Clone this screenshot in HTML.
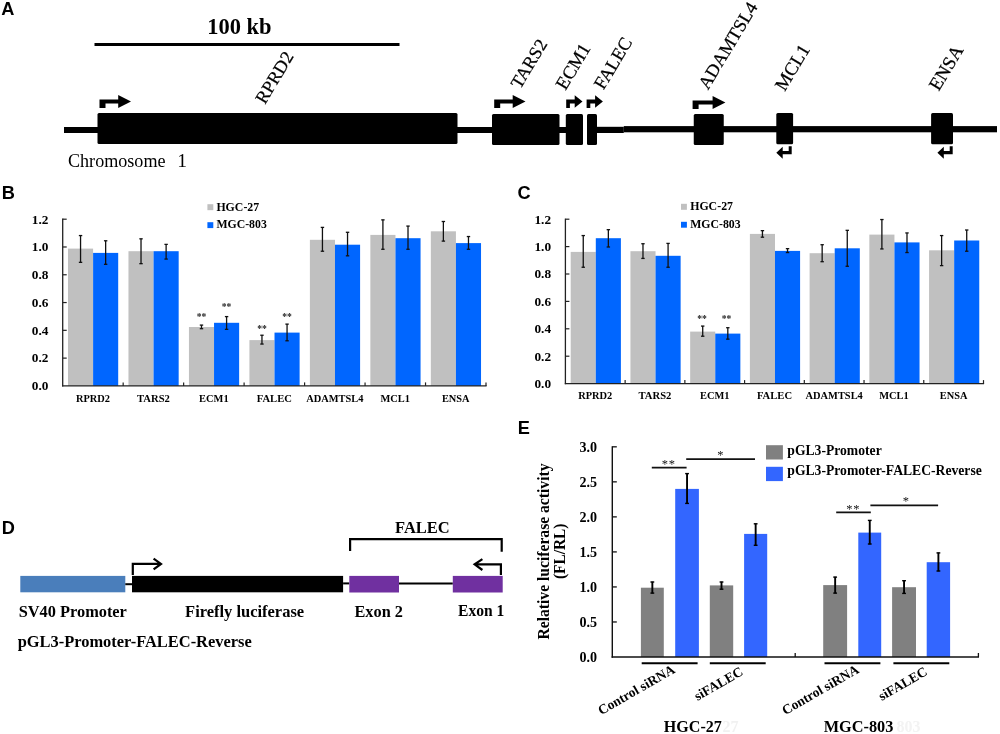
<!DOCTYPE html>
<html><head><meta charset="utf-8"><title>Figure</title>
<style>
html,body{margin:0;padding:0;background:#fff;}
body{width:1000px;height:734px;overflow:hidden;font-family:"Liberation Serif",serif;}
svg{display:block;will-change:transform;}
</style></head><body>
<svg width="1000" height="734" viewBox="0 0 1000 734">
<rect width="1000" height="734" fill="#fff"/>
<text x="1.2" y="14.8" font-family="Liberation Sans" font-size="18.2" font-weight="bold" text-anchor="start" fill="#000" >A</text>
<text x="1.7" y="199" font-family="Liberation Sans" font-size="18.2" font-weight="bold" text-anchor="start" fill="#000" >B</text>
<text x="517.4" y="199.3" font-family="Liberation Sans" font-size="18.2" font-weight="bold" text-anchor="start" fill="#000" >C</text>
<text x="1.7" y="534" font-family="Liberation Sans" font-size="18.2" font-weight="bold" text-anchor="start" fill="#000" >D</text>
<text x="517.7" y="433.8" font-family="Liberation Sans" font-size="18.2" font-weight="bold" text-anchor="start" fill="#000" >E</text>
<text x="207.2" y="34" font-family="Liberation Serif" font-size="23.5" font-weight="bold" text-anchor="start" textLength="64.3" lengthAdjust="spacingAndGlyphs" fill="#000" >100 kb</text>
<rect x="94.50" y="43.00" width="305.00" height="3.00" fill="#000"/>
<rect x="64.00" y="127.00" width="519.00" height="6.00" fill="#000"/>
<rect x="587.00" y="126.80" width="36.80" height="6.20" fill="#000"/>
<rect x="623.80" y="126.10" width="373.20" height="6.20" fill="#000"/>
<text x="68" y="167" font-family="Liberation Serif" font-size="19.5" text-anchor="start" textLength="97.5" lengthAdjust="spacingAndGlyphs" fill="#000" >Chromosome</text>
<text x="177.3" y="167" font-family="Liberation Serif" font-size="19.5" text-anchor="start" fill="#000" >1</text>
<rect x="97.50" y="113.00" width="360.00" height="31.00" fill="#000" rx="1.5"/>
<rect x="492.00" y="114.00" width="67.50" height="31.00" fill="#000" rx="1.5"/>
<rect x="565.80" y="114.00" width="17.20" height="31.00" fill="#000" rx="1.5"/>
<rect x="587.00" y="114.00" width="10.00" height="31.00" fill="#000" rx="1.5"/>
<rect x="693.75" y="114.00" width="30.00" height="31.00" fill="#000" rx="1.5"/>
<rect x="776.30" y="113.00" width="16.80" height="31.30" fill="#000" rx="1.5"/>
<rect x="931.10" y="113.00" width="21.90" height="31.30" fill="#000" rx="1.5"/>
<path d="M99.5,107.9 V99.5 H118.2 V95.0 L131,101.45 L118.2,107.9 V103.6 H105.5 V107.9 Z" fill="#000"/>
<path d="M494.2,107.9 V99.5 H512.7 V95.0 L525.5,101.45 L512.7,107.9 V103.6 H500.2 V107.9 Z" fill="#000"/>
<path d="M566.2,107.9 V99.5 H574.7 V95.2 L582.5,101.5 L574.7,107.8 V103.6 H569.9000000000001 V107.9 Z" fill="#000"/>
<path d="M586.6,107.9 V99.5 H595.1 V95.2 L602.9,101.5 L595.1,107.8 V103.6 H590.3000000000001 V107.9 Z" fill="#000"/>
<path d="M692.6,108.9 V100.5 H712.6 V96.0 L725.4,102.45 L712.6,108.9 V104.6 H698.6 V108.9 Z" fill="#000"/>
<path d="M791.7,146.2 V154.35 H782.6999999999999 V158.7 L776.3,152.7 L782.6999999999999,146.7 V151.04999999999998 H788.7 V146.2 Z" fill="#000"/>
<path d="M952.7,146.2 V154.35 H943.8 V158.7 L937.4,152.7 L943.8,146.7 V151.04999999999998 H949.7 V146.2 Z" fill="#000"/>
<text x="265" y="105" font-family="Liberation Serif" font-size="18.3" text-anchor="start" transform="rotate(-59 265 105)" fill="#000" stroke="#000" stroke-width="0.25">RPRD2</text>
<text x="520.2" y="89.8" font-family="Liberation Serif" font-size="18.0" text-anchor="start" transform="rotate(-59 520.2 89.8)" fill="#000" stroke="#000" stroke-width="0.25">TARS2</text>
<text x="565.5" y="91" font-family="Liberation Serif" font-size="18.7" text-anchor="start" transform="rotate(-59 565.5 91)" fill="#000" stroke="#000" stroke-width="0.25">ECM1</text>
<text x="603.6" y="90.5" font-family="Liberation Serif" font-size="18.3" text-anchor="start" transform="rotate(-59 603.6 90.5)" fill="#000" stroke="#000" stroke-width="0.25">FALEC</text>
<text x="708" y="90.5" font-family="Liberation Serif" font-size="18.3" text-anchor="start" transform="rotate(-59 708 90.5)" textLength="97.6" lengthAdjust="spacingAndGlyphs" fill="#000" stroke="#000" stroke-width="0.25">ADAMTSL4</text>
<text x="784.8" y="92" font-family="Liberation Serif" font-size="18.7" text-anchor="start" transform="rotate(-59 784.8 92)" fill="#000" stroke="#000" stroke-width="0.25">MCL1</text>
<text x="938.8" y="91.8" font-family="Liberation Serif" font-size="18.7" text-anchor="start" transform="rotate(-59 938.8 91.8)" fill="#000" stroke="#000" stroke-width="0.25">ENSA</text>
<rect x="68.00" y="248.60" width="25.10" height="137.30" fill="#c0c0c0"/>
<rect x="93.10" y="252.90" width="25.10" height="133.00" fill="#0066ff"/>
<line x1="80.55" y1="235.56" x2="80.55" y2="262.35" stroke="#111" stroke-width="1.3" stroke-linecap="butt"/>
<line x1="78.85" y1="235.56" x2="82.25" y2="235.56" stroke="#111" stroke-width="1.3" stroke-linecap="butt"/>
<line x1="78.85" y1="262.35" x2="82.25" y2="262.35" stroke="#111" stroke-width="1.3" stroke-linecap="butt"/>
<line x1="105.65" y1="240.78" x2="105.65" y2="264.31" stroke="#111" stroke-width="1.3" stroke-linecap="butt"/>
<line x1="103.95" y1="240.78" x2="107.35" y2="240.78" stroke="#111" stroke-width="1.3" stroke-linecap="butt"/>
<line x1="103.95" y1="264.31" x2="107.35" y2="264.31" stroke="#111" stroke-width="1.3" stroke-linecap="butt"/>
<text x="75.9" y="402" font-family="Liberation Serif" font-size="11.3" font-weight="bold" text-anchor="start" textLength="34.1" lengthAdjust="spacingAndGlyphs" fill="#000" >RPRD2</text>
<rect x="128.47" y="251.20" width="25.10" height="134.70" fill="#c0c0c0"/>
<rect x="153.57" y="251.20" width="25.10" height="134.70" fill="#0066ff"/>
<line x1="141.02" y1="238.82" x2="141.02" y2="263.66" stroke="#111" stroke-width="1.3" stroke-linecap="butt"/>
<line x1="139.32" y1="238.82" x2="142.72" y2="238.82" stroke="#111" stroke-width="1.3" stroke-linecap="butt"/>
<line x1="139.32" y1="263.66" x2="142.72" y2="263.66" stroke="#111" stroke-width="1.3" stroke-linecap="butt"/>
<line x1="166.12" y1="244.38" x2="166.12" y2="259.08" stroke="#111" stroke-width="1.3" stroke-linecap="butt"/>
<line x1="164.42" y1="244.38" x2="167.82" y2="244.38" stroke="#111" stroke-width="1.3" stroke-linecap="butt"/>
<line x1="164.42" y1="259.08" x2="167.82" y2="259.08" stroke="#111" stroke-width="1.3" stroke-linecap="butt"/>
<text x="137.0" y="402" font-family="Liberation Serif" font-size="11.3" font-weight="bold" text-anchor="start" textLength="32.9" lengthAdjust="spacingAndGlyphs" fill="#000" >TARS2</text>
<rect x="188.94" y="327.00" width="25.10" height="58.90" fill="#c0c0c0"/>
<rect x="214.04" y="322.80" width="25.10" height="63.10" fill="#0066ff"/>
<line x1="201.49" y1="325.10" x2="201.49" y2="328.69" stroke="#111" stroke-width="1.3" stroke-linecap="butt"/>
<line x1="199.79" y1="325.10" x2="203.19" y2="325.10" stroke="#111" stroke-width="1.3" stroke-linecap="butt"/>
<line x1="199.79" y1="328.69" x2="203.19" y2="328.69" stroke="#111" stroke-width="1.3" stroke-linecap="butt"/>
<line x1="226.59" y1="316.60" x2="226.59" y2="329.35" stroke="#111" stroke-width="1.3" stroke-linecap="butt"/>
<line x1="224.89" y1="316.60" x2="228.29" y2="316.60" stroke="#111" stroke-width="1.3" stroke-linecap="butt"/>
<line x1="224.89" y1="329.35" x2="228.29" y2="329.35" stroke="#111" stroke-width="1.3" stroke-linecap="butt"/>
<text x="199.1" y="402" font-family="Liberation Serif" font-size="11.3" font-weight="bold" text-anchor="start" textLength="29.5" lengthAdjust="spacingAndGlyphs" fill="#000" >ECM1</text>
<rect x="249.41" y="340.10" width="25.10" height="45.80" fill="#c0c0c0"/>
<rect x="274.51" y="332.60" width="25.10" height="53.30" fill="#0066ff"/>
<line x1="261.96" y1="335.23" x2="261.96" y2="344.05" stroke="#111" stroke-width="1.3" stroke-linecap="butt"/>
<line x1="260.26" y1="335.23" x2="263.66" y2="335.23" stroke="#111" stroke-width="1.3" stroke-linecap="butt"/>
<line x1="260.26" y1="344.05" x2="263.66" y2="344.05" stroke="#111" stroke-width="1.3" stroke-linecap="butt"/>
<line x1="287.06" y1="324.12" x2="287.06" y2="340.78" stroke="#111" stroke-width="1.3" stroke-linecap="butt"/>
<line x1="285.36" y1="324.12" x2="288.76" y2="324.12" stroke="#111" stroke-width="1.3" stroke-linecap="butt"/>
<line x1="285.36" y1="340.78" x2="288.76" y2="340.78" stroke="#111" stroke-width="1.3" stroke-linecap="butt"/>
<text x="256.7" y="402" font-family="Liberation Serif" font-size="11.3" font-weight="bold" text-anchor="start" textLength="35.2" lengthAdjust="spacingAndGlyphs" fill="#000" >FALEC</text>
<rect x="309.89" y="239.80" width="25.10" height="146.10" fill="#c0c0c0"/>
<rect x="334.99" y="244.70" width="25.10" height="141.20" fill="#0066ff"/>
<line x1="322.44" y1="227.39" x2="322.44" y2="251.24" stroke="#111" stroke-width="1.3" stroke-linecap="butt"/>
<line x1="320.74" y1="227.39" x2="324.14" y2="227.39" stroke="#111" stroke-width="1.3" stroke-linecap="butt"/>
<line x1="320.74" y1="251.24" x2="324.14" y2="251.24" stroke="#111" stroke-width="1.3" stroke-linecap="butt"/>
<line x1="347.54" y1="232.29" x2="347.54" y2="255.82" stroke="#111" stroke-width="1.3" stroke-linecap="butt"/>
<line x1="345.84" y1="232.29" x2="349.24" y2="232.29" stroke="#111" stroke-width="1.3" stroke-linecap="butt"/>
<line x1="345.84" y1="255.82" x2="349.24" y2="255.82" stroke="#111" stroke-width="1.3" stroke-linecap="butt"/>
<text x="306.2" y="402" font-family="Liberation Serif" font-size="11.3" font-weight="bold" text-anchor="start" textLength="57.2" lengthAdjust="spacingAndGlyphs" fill="#000" >ADAMTSL4</text>
<rect x="370.36" y="234.90" width="25.10" height="151.00" fill="#c0c0c0"/>
<rect x="395.46" y="238.20" width="25.10" height="147.70" fill="#0066ff"/>
<line x1="382.91" y1="219.87" x2="382.91" y2="249.28" stroke="#111" stroke-width="1.3" stroke-linecap="butt"/>
<line x1="381.21" y1="219.87" x2="384.61" y2="219.87" stroke="#111" stroke-width="1.3" stroke-linecap="butt"/>
<line x1="381.21" y1="249.28" x2="384.61" y2="249.28" stroke="#111" stroke-width="1.3" stroke-linecap="butt"/>
<line x1="408.01" y1="226.08" x2="408.01" y2="249.28" stroke="#111" stroke-width="1.3" stroke-linecap="butt"/>
<line x1="406.31" y1="226.08" x2="409.71" y2="226.08" stroke="#111" stroke-width="1.3" stroke-linecap="butt"/>
<line x1="406.31" y1="249.28" x2="409.71" y2="249.28" stroke="#111" stroke-width="1.3" stroke-linecap="butt"/>
<text x="380.5" y="402" font-family="Liberation Serif" font-size="11.3" font-weight="bold" text-anchor="start" textLength="29.5" lengthAdjust="spacingAndGlyphs" fill="#000" >MCL1</text>
<rect x="430.83" y="231.30" width="25.10" height="154.60" fill="#c0c0c0"/>
<rect x="455.93" y="243.10" width="25.10" height="142.80" fill="#0066ff"/>
<line x1="443.38" y1="221.50" x2="443.38" y2="241.11" stroke="#111" stroke-width="1.3" stroke-linecap="butt"/>
<line x1="441.68" y1="221.50" x2="445.08" y2="221.50" stroke="#111" stroke-width="1.3" stroke-linecap="butt"/>
<line x1="441.68" y1="241.11" x2="445.08" y2="241.11" stroke="#111" stroke-width="1.3" stroke-linecap="butt"/>
<line x1="468.48" y1="236.54" x2="468.48" y2="249.28" stroke="#111" stroke-width="1.3" stroke-linecap="butt"/>
<line x1="466.78" y1="236.54" x2="470.18" y2="236.54" stroke="#111" stroke-width="1.3" stroke-linecap="butt"/>
<line x1="466.78" y1="249.28" x2="470.18" y2="249.28" stroke="#111" stroke-width="1.3" stroke-linecap="butt"/>
<text x="441.9" y="402" font-family="Liberation Serif" font-size="11.3" font-weight="bold" text-anchor="start" textLength="27.7" lengthAdjust="spacingAndGlyphs" fill="#000" >ENSA</text>
<line x1="62.70" y1="218.60" x2="62.70" y2="386.50" stroke="#222" stroke-width="1.3" stroke-linecap="butt"/>
<line x1="62.10" y1="385.90" x2="486.60" y2="385.90" stroke="#222" stroke-width="1.3" stroke-linecap="butt"/>
<text x="48.4" y="390.2" font-family="Liberation Serif" font-size="13.3" font-weight="bold" text-anchor="end" fill="#000" >0.0</text>
<line x1="62.70" y1="358.12" x2="66.70" y2="358.12" stroke="#222" stroke-width="1.2" stroke-linecap="butt"/>
<text x="48.4" y="362.4" font-family="Liberation Serif" font-size="13.3" font-weight="bold" text-anchor="end" fill="#000" >0.2</text>
<line x1="62.70" y1="330.33" x2="66.70" y2="330.33" stroke="#222" stroke-width="1.2" stroke-linecap="butt"/>
<text x="48.4" y="334.6" font-family="Liberation Serif" font-size="13.3" font-weight="bold" text-anchor="end" fill="#000" >0.4</text>
<line x1="62.70" y1="302.55" x2="66.70" y2="302.55" stroke="#222" stroke-width="1.2" stroke-linecap="butt"/>
<text x="48.4" y="306.8" font-family="Liberation Serif" font-size="13.3" font-weight="bold" text-anchor="end" fill="#000" >0.6</text>
<line x1="62.70" y1="274.77" x2="66.70" y2="274.77" stroke="#222" stroke-width="1.2" stroke-linecap="butt"/>
<text x="48.4" y="279.1" font-family="Liberation Serif" font-size="13.3" font-weight="bold" text-anchor="end" fill="#000" >0.8</text>
<line x1="62.70" y1="246.98" x2="66.70" y2="246.98" stroke="#222" stroke-width="1.2" stroke-linecap="butt"/>
<text x="48.4" y="251.3" font-family="Liberation Serif" font-size="13.3" font-weight="bold" text-anchor="end" fill="#000" >1.0</text>
<line x1="62.70" y1="219.20" x2="66.70" y2="219.20" stroke="#222" stroke-width="1.2" stroke-linecap="butt"/>
<text x="48.4" y="223.5" font-family="Liberation Serif" font-size="13.3" font-weight="bold" text-anchor="end" fill="#000" >1.2</text>
<line x1="123.17" y1="385.90" x2="123.17" y2="382.40" stroke="#222" stroke-width="1.2" stroke-linecap="butt"/>
<line x1="183.64" y1="385.90" x2="183.64" y2="382.40" stroke="#222" stroke-width="1.2" stroke-linecap="butt"/>
<line x1="244.11" y1="385.90" x2="244.11" y2="382.40" stroke="#222" stroke-width="1.2" stroke-linecap="butt"/>
<line x1="304.59" y1="385.90" x2="304.59" y2="382.40" stroke="#222" stroke-width="1.2" stroke-linecap="butt"/>
<line x1="365.06" y1="385.90" x2="365.06" y2="382.40" stroke="#222" stroke-width="1.2" stroke-linecap="butt"/>
<line x1="425.53" y1="385.90" x2="425.53" y2="382.40" stroke="#222" stroke-width="1.2" stroke-linecap="butt"/>
<line x1="486.00" y1="385.90" x2="486.00" y2="382.40" stroke="#222" stroke-width="1.2" stroke-linecap="butt"/>
<rect x="207.40" y="204.20" width="5.90" height="6.00" fill="#c0c0c0"/>
<rect x="207.40" y="222.20" width="5.90" height="5.90" fill="#0066ff"/>
<text x="216.4" y="210.6" font-family="Liberation Serif" font-size="11.5" font-weight="bold" text-anchor="start" textLength="42.8" lengthAdjust="spacingAndGlyphs" fill="#000" >HGC-27</text>
<text x="216.4" y="228.2" font-family="Liberation Serif" font-size="11.5" font-weight="bold" text-anchor="start" textLength="50.4" lengthAdjust="spacingAndGlyphs" fill="#000" >MGC-803</text>
<text x="201.5" y="319.8" font-family="Liberation Serif" font-size="9.6" font-weight="bold" text-anchor="middle" fill="#222" >**</text>
<text x="226.5" y="309.8" font-family="Liberation Serif" font-size="9.6" font-weight="bold" text-anchor="middle" fill="#222" >**</text>
<text x="262" y="331.8" font-family="Liberation Serif" font-size="9.6" font-weight="bold" text-anchor="middle" fill="#222" >**</text>
<text x="287" y="319.8" font-family="Liberation Serif" font-size="9.6" font-weight="bold" text-anchor="middle" fill="#222" >**</text>
<rect x="570.70" y="251.90" width="25.10" height="131.70" fill="#c0c0c0"/>
<rect x="595.80" y="238.20" width="25.10" height="145.40" fill="#0066ff"/>
<line x1="583.25" y1="235.56" x2="583.25" y2="267.25" stroke="#111" stroke-width="1.3" stroke-linecap="butt"/>
<line x1="581.55" y1="235.56" x2="584.95" y2="235.56" stroke="#111" stroke-width="1.3" stroke-linecap="butt"/>
<line x1="581.55" y1="267.25" x2="584.95" y2="267.25" stroke="#111" stroke-width="1.3" stroke-linecap="butt"/>
<line x1="608.35" y1="229.67" x2="608.35" y2="246.99" stroke="#111" stroke-width="1.3" stroke-linecap="butt"/>
<line x1="606.65" y1="229.67" x2="610.05" y2="229.67" stroke="#111" stroke-width="1.3" stroke-linecap="butt"/>
<line x1="606.65" y1="246.99" x2="610.05" y2="246.99" stroke="#111" stroke-width="1.3" stroke-linecap="butt"/>
<text x="578.2" y="399.3" font-family="Liberation Serif" font-size="11.3" font-weight="bold" text-anchor="start" textLength="34.1" lengthAdjust="spacingAndGlyphs" fill="#000" >RPRD2</text>
<rect x="630.43" y="251.20" width="25.10" height="132.40" fill="#c0c0c0"/>
<rect x="655.53" y="255.80" width="25.10" height="127.80" fill="#0066ff"/>
<line x1="642.98" y1="243.73" x2="642.98" y2="258.43" stroke="#111" stroke-width="1.3" stroke-linecap="butt"/>
<line x1="641.28" y1="243.73" x2="644.68" y2="243.73" stroke="#111" stroke-width="1.3" stroke-linecap="butt"/>
<line x1="641.28" y1="258.43" x2="644.68" y2="258.43" stroke="#111" stroke-width="1.3" stroke-linecap="butt"/>
<line x1="668.08" y1="243.40" x2="668.08" y2="267.25" stroke="#111" stroke-width="1.3" stroke-linecap="butt"/>
<line x1="666.38" y1="243.40" x2="669.78" y2="243.40" stroke="#111" stroke-width="1.3" stroke-linecap="butt"/>
<line x1="666.38" y1="267.25" x2="669.78" y2="267.25" stroke="#111" stroke-width="1.3" stroke-linecap="butt"/>
<text x="638.5" y="399.3" font-family="Liberation Serif" font-size="11.3" font-weight="bold" text-anchor="start" textLength="32.9" lengthAdjust="spacingAndGlyphs" fill="#000" >TARS2</text>
<rect x="690.16" y="331.60" width="25.10" height="52.00" fill="#c0c0c0"/>
<rect x="715.26" y="333.60" width="25.10" height="50.00" fill="#0066ff"/>
<line x1="702.71" y1="326.08" x2="702.71" y2="336.21" stroke="#111" stroke-width="1.3" stroke-linecap="butt"/>
<line x1="701.01" y1="326.08" x2="704.41" y2="326.08" stroke="#111" stroke-width="1.3" stroke-linecap="butt"/>
<line x1="701.01" y1="336.21" x2="704.41" y2="336.21" stroke="#111" stroke-width="1.3" stroke-linecap="butt"/>
<line x1="727.81" y1="327.71" x2="727.81" y2="339.15" stroke="#111" stroke-width="1.3" stroke-linecap="butt"/>
<line x1="726.11" y1="327.71" x2="729.51" y2="327.71" stroke="#111" stroke-width="1.3" stroke-linecap="butt"/>
<line x1="726.11" y1="339.15" x2="729.51" y2="339.15" stroke="#111" stroke-width="1.3" stroke-linecap="butt"/>
<text x="700.0" y="399.3" font-family="Liberation Serif" font-size="11.3" font-weight="bold" text-anchor="start" textLength="29.5" lengthAdjust="spacingAndGlyphs" fill="#000" >ECM1</text>
<rect x="749.89" y="233.90" width="25.10" height="149.70" fill="#c0c0c0"/>
<rect x="774.99" y="250.90" width="25.10" height="132.70" fill="#0066ff"/>
<line x1="762.44" y1="230.65" x2="762.44" y2="237.19" stroke="#111" stroke-width="1.3" stroke-linecap="butt"/>
<line x1="760.74" y1="230.65" x2="764.14" y2="230.65" stroke="#111" stroke-width="1.3" stroke-linecap="butt"/>
<line x1="760.74" y1="237.19" x2="764.14" y2="237.19" stroke="#111" stroke-width="1.3" stroke-linecap="butt"/>
<line x1="787.54" y1="248.63" x2="787.54" y2="252.55" stroke="#111" stroke-width="1.3" stroke-linecap="butt"/>
<line x1="785.84" y1="248.63" x2="789.24" y2="248.63" stroke="#111" stroke-width="1.3" stroke-linecap="butt"/>
<line x1="785.84" y1="252.55" x2="789.24" y2="252.55" stroke="#111" stroke-width="1.3" stroke-linecap="butt"/>
<text x="756.9" y="399.3" font-family="Liberation Serif" font-size="11.3" font-weight="bold" text-anchor="start" textLength="35.2" lengthAdjust="spacingAndGlyphs" fill="#000" >FALEC</text>
<rect x="809.61" y="253.20" width="25.10" height="130.40" fill="#c0c0c0"/>
<rect x="834.71" y="248.30" width="25.10" height="135.30" fill="#0066ff"/>
<line x1="822.16" y1="244.71" x2="822.16" y2="261.70" stroke="#111" stroke-width="1.3" stroke-linecap="butt"/>
<line x1="820.46" y1="244.71" x2="823.86" y2="244.71" stroke="#111" stroke-width="1.3" stroke-linecap="butt"/>
<line x1="820.46" y1="261.70" x2="823.86" y2="261.70" stroke="#111" stroke-width="1.3" stroke-linecap="butt"/>
<line x1="847.26" y1="230.33" x2="847.26" y2="266.27" stroke="#111" stroke-width="1.3" stroke-linecap="butt"/>
<line x1="845.56" y1="230.33" x2="848.96" y2="230.33" stroke="#111" stroke-width="1.3" stroke-linecap="butt"/>
<line x1="845.56" y1="266.27" x2="848.96" y2="266.27" stroke="#111" stroke-width="1.3" stroke-linecap="butt"/>
<text x="805.6" y="399.3" font-family="Liberation Serif" font-size="11.3" font-weight="bold" text-anchor="start" textLength="57.2" lengthAdjust="spacingAndGlyphs" fill="#000" >ADAMTSL4</text>
<rect x="869.34" y="234.60" width="25.10" height="149.00" fill="#c0c0c0"/>
<rect x="894.44" y="242.40" width="25.10" height="141.20" fill="#0066ff"/>
<line x1="881.89" y1="219.54" x2="881.89" y2="248.95" stroke="#111" stroke-width="1.3" stroke-linecap="butt"/>
<line x1="880.19" y1="219.54" x2="883.59" y2="219.54" stroke="#111" stroke-width="1.3" stroke-linecap="butt"/>
<line x1="880.19" y1="248.95" x2="883.59" y2="248.95" stroke="#111" stroke-width="1.3" stroke-linecap="butt"/>
<line x1="906.99" y1="232.94" x2="906.99" y2="252.55" stroke="#111" stroke-width="1.3" stroke-linecap="butt"/>
<line x1="905.29" y1="232.94" x2="908.69" y2="232.94" stroke="#111" stroke-width="1.3" stroke-linecap="butt"/>
<line x1="905.29" y1="252.55" x2="908.69" y2="252.55" stroke="#111" stroke-width="1.3" stroke-linecap="butt"/>
<text x="879.2" y="399.3" font-family="Liberation Serif" font-size="11.3" font-weight="bold" text-anchor="start" textLength="29.5" lengthAdjust="spacingAndGlyphs" fill="#000" >MCL1</text>
<rect x="929.07" y="250.30" width="25.10" height="133.30" fill="#c0c0c0"/>
<rect x="954.17" y="240.50" width="25.10" height="143.10" fill="#0066ff"/>
<line x1="941.62" y1="235.56" x2="941.62" y2="265.62" stroke="#111" stroke-width="1.3" stroke-linecap="butt"/>
<line x1="939.92" y1="235.56" x2="943.32" y2="235.56" stroke="#111" stroke-width="1.3" stroke-linecap="butt"/>
<line x1="939.92" y1="265.62" x2="943.32" y2="265.62" stroke="#111" stroke-width="1.3" stroke-linecap="butt"/>
<line x1="966.72" y1="230.00" x2="966.72" y2="251.24" stroke="#111" stroke-width="1.3" stroke-linecap="butt"/>
<line x1="965.02" y1="230.00" x2="968.42" y2="230.00" stroke="#111" stroke-width="1.3" stroke-linecap="butt"/>
<line x1="965.02" y1="251.24" x2="968.42" y2="251.24" stroke="#111" stroke-width="1.3" stroke-linecap="butt"/>
<text x="939.8" y="399.3" font-family="Liberation Serif" font-size="11.3" font-weight="bold" text-anchor="start" textLength="27.7" lengthAdjust="spacingAndGlyphs" fill="#000" >ENSA</text>
<line x1="565.40" y1="218.60" x2="565.40" y2="384.20" stroke="#222" stroke-width="1.3" stroke-linecap="butt"/>
<line x1="564.80" y1="383.60" x2="984.10" y2="383.60" stroke="#222" stroke-width="1.3" stroke-linecap="butt"/>
<text x="551.1" y="387.9" font-family="Liberation Serif" font-size="13.3" font-weight="bold" text-anchor="end" fill="#000" >0.0</text>
<line x1="565.40" y1="356.20" x2="569.40" y2="356.20" stroke="#222" stroke-width="1.2" stroke-linecap="butt"/>
<text x="551.1" y="360.5" font-family="Liberation Serif" font-size="13.3" font-weight="bold" text-anchor="end" fill="#000" >0.2</text>
<line x1="565.40" y1="328.80" x2="569.40" y2="328.80" stroke="#222" stroke-width="1.2" stroke-linecap="butt"/>
<text x="551.1" y="333.1" font-family="Liberation Serif" font-size="13.3" font-weight="bold" text-anchor="end" fill="#000" >0.4</text>
<line x1="565.40" y1="301.40" x2="569.40" y2="301.40" stroke="#222" stroke-width="1.2" stroke-linecap="butt"/>
<text x="551.1" y="305.7" font-family="Liberation Serif" font-size="13.3" font-weight="bold" text-anchor="end" fill="#000" >0.6</text>
<line x1="565.40" y1="274.00" x2="569.40" y2="274.00" stroke="#222" stroke-width="1.2" stroke-linecap="butt"/>
<text x="551.1" y="278.3" font-family="Liberation Serif" font-size="13.3" font-weight="bold" text-anchor="end" fill="#000" >0.8</text>
<line x1="565.40" y1="246.60" x2="569.40" y2="246.60" stroke="#222" stroke-width="1.2" stroke-linecap="butt"/>
<text x="551.1" y="250.9" font-family="Liberation Serif" font-size="13.3" font-weight="bold" text-anchor="end" fill="#000" >1.0</text>
<line x1="565.40" y1="219.20" x2="569.40" y2="219.20" stroke="#222" stroke-width="1.2" stroke-linecap="butt"/>
<text x="551.1" y="223.5" font-family="Liberation Serif" font-size="13.3" font-weight="bold" text-anchor="end" fill="#000" >1.2</text>
<line x1="625.13" y1="383.60" x2="625.13" y2="380.10" stroke="#222" stroke-width="1.2" stroke-linecap="butt"/>
<line x1="684.86" y1="383.60" x2="684.86" y2="380.10" stroke="#222" stroke-width="1.2" stroke-linecap="butt"/>
<line x1="744.59" y1="383.60" x2="744.59" y2="380.10" stroke="#222" stroke-width="1.2" stroke-linecap="butt"/>
<line x1="804.31" y1="383.60" x2="804.31" y2="380.10" stroke="#222" stroke-width="1.2" stroke-linecap="butt"/>
<line x1="864.04" y1="383.60" x2="864.04" y2="380.10" stroke="#222" stroke-width="1.2" stroke-linecap="butt"/>
<line x1="923.77" y1="383.60" x2="923.77" y2="380.10" stroke="#222" stroke-width="1.2" stroke-linecap="butt"/>
<line x1="983.50" y1="383.60" x2="983.50" y2="380.10" stroke="#222" stroke-width="1.2" stroke-linecap="butt"/>
<rect x="681.00" y="203.80" width="5.90" height="6.00" fill="#c0c0c0"/>
<rect x="681.00" y="221.80" width="5.90" height="5.90" fill="#0066ff"/>
<text x="690.2" y="210.0" font-family="Liberation Serif" font-size="11.5" font-weight="bold" text-anchor="start" textLength="42.8" lengthAdjust="spacingAndGlyphs" fill="#000" >HGC-27</text>
<text x="690.2" y="227.6" font-family="Liberation Serif" font-size="11.5" font-weight="bold" text-anchor="start" textLength="50.4" lengthAdjust="spacingAndGlyphs" fill="#000" >MGC-803</text>
<text x="702" y="322.3" font-family="Liberation Serif" font-size="9.6" font-weight="bold" text-anchor="middle" fill="#222" >**</text>
<text x="726.5" y="322.3" font-family="Liberation Serif" font-size="9.6" font-weight="bold" text-anchor="middle" fill="#222" >**</text>
<rect x="20.30" y="575.90" width="105.00" height="16.40" fill="#4a7ebb"/>
<line x1="125.30" y1="584.20" x2="132.00" y2="584.20" stroke="#000" stroke-width="2" stroke-linecap="butt"/>
<rect x="132.00" y="575.90" width="211.10" height="16.40" fill="#000"/>
<line x1="343.10" y1="583.40" x2="349.30" y2="583.40" stroke="#000" stroke-width="2" stroke-linecap="butt"/>
<rect x="349.30" y="575.90" width="49.70" height="16.60" fill="#7030a0"/>
<line x1="399.00" y1="583.40" x2="452.80" y2="583.40" stroke="#000" stroke-width="2" stroke-linecap="butt"/>
<rect x="452.80" y="575.90" width="49.90" height="16.60" fill="#7030a0"/>
<path d="M132.8,575 V563.9 H160.5 M153.6,558.6 L161,563.9 L153.6,569.4" fill="none" stroke="#000" stroke-width="2.2"/>
<path d="M500.9,575 V564.3 H474.8 M482.4,559.2 L474.6,564.3 L482.4,570" fill="none" stroke="#000" stroke-width="2.2"/>
<path d="M350.1,551 V539.2 H501.7 V551.8" fill="none" stroke="#000" stroke-width="2.2"/>
<text x="395.1" y="532.5" font-family="Liberation Serif" font-size="16" font-weight="bold" text-anchor="start" textLength="54.6" lengthAdjust="spacingAndGlyphs" fill="#000" >FALEC</text>
<text x="18.7" y="616.7" font-family="Liberation Serif" font-size="16" font-weight="bold" text-anchor="start" textLength="108.2" lengthAdjust="spacingAndGlyphs" fill="#000" >SV40 Promoter</text>
<text x="185.1" y="617" font-family="Liberation Serif" font-size="16" font-weight="bold" text-anchor="start" textLength="119" lengthAdjust="spacingAndGlyphs" fill="#000" >Firefly luciferase</text>
<text x="354.5" y="617" font-family="Liberation Serif" font-size="16" font-weight="bold" text-anchor="start" textLength="48.4" lengthAdjust="spacingAndGlyphs" fill="#000" >Exon 2</text>
<text x="458" y="615.7" font-family="Liberation Serif" font-size="16" font-weight="bold" text-anchor="start" textLength="46.3" lengthAdjust="spacingAndGlyphs" fill="#000" >Exon 1</text>
<text x="17.7" y="647.4" font-family="Liberation Serif" font-size="16" font-weight="bold" text-anchor="start" textLength="234" lengthAdjust="spacingAndGlyphs" fill="#000" >pGL3-Promoter-FALEC-Reverse</text>
<rect x="640.90" y="587.70" width="22.90" height="69.30" fill="#808080"/>
<line x1="652.35" y1="581.70" x2="652.35" y2="593.40" stroke="#000" stroke-width="1.9" stroke-linecap="butt"/>
<line x1="650.45" y1="582.00" x2="654.25" y2="582.00" stroke="#000" stroke-width="1.4" stroke-linecap="butt"/>
<line x1="650.45" y1="593.10" x2="654.25" y2="593.10" stroke="#000" stroke-width="1.4" stroke-linecap="butt"/>
<rect x="675.20" y="488.90" width="23.70" height="168.10" fill="#3366ff"/>
<line x1="687.05" y1="473.30" x2="687.05" y2="503.70" stroke="#000" stroke-width="1.9" stroke-linecap="butt"/>
<line x1="685.15" y1="473.60" x2="688.95" y2="473.60" stroke="#000" stroke-width="1.4" stroke-linecap="butt"/>
<line x1="685.15" y1="503.40" x2="688.95" y2="503.40" stroke="#000" stroke-width="1.4" stroke-linecap="butt"/>
<rect x="709.80" y="585.40" width="23.40" height="71.60" fill="#808080"/>
<line x1="721.50" y1="581.70" x2="721.50" y2="589.50" stroke="#000" stroke-width="1.9" stroke-linecap="butt"/>
<line x1="719.60" y1="582.00" x2="723.40" y2="582.00" stroke="#000" stroke-width="1.4" stroke-linecap="butt"/>
<line x1="719.60" y1="589.20" x2="723.40" y2="589.20" stroke="#000" stroke-width="1.4" stroke-linecap="butt"/>
<rect x="744.10" y="533.90" width="23.10" height="123.10" fill="#3366ff"/>
<line x1="755.65" y1="523.50" x2="755.65" y2="545.60" stroke="#000" stroke-width="1.9" stroke-linecap="butt"/>
<line x1="753.75" y1="523.80" x2="757.55" y2="523.80" stroke="#000" stroke-width="1.4" stroke-linecap="butt"/>
<line x1="753.75" y1="545.30" x2="757.55" y2="545.30" stroke="#000" stroke-width="1.4" stroke-linecap="butt"/>
<rect x="823.20" y="585.10" width="23.90" height="71.90" fill="#808080"/>
<line x1="835.15" y1="576.80" x2="835.15" y2="593.40" stroke="#000" stroke-width="1.9" stroke-linecap="butt"/>
<line x1="833.25" y1="577.10" x2="837.05" y2="577.10" stroke="#000" stroke-width="1.4" stroke-linecap="butt"/>
<line x1="833.25" y1="593.10" x2="837.05" y2="593.10" stroke="#000" stroke-width="1.4" stroke-linecap="butt"/>
<rect x="858.30" y="532.60" width="22.90" height="124.40" fill="#3366ff"/>
<line x1="869.75" y1="520.10" x2="869.75" y2="544.30" stroke="#000" stroke-width="1.9" stroke-linecap="butt"/>
<line x1="867.85" y1="520.40" x2="871.65" y2="520.40" stroke="#000" stroke-width="1.4" stroke-linecap="butt"/>
<line x1="867.85" y1="544.00" x2="871.65" y2="544.00" stroke="#000" stroke-width="1.4" stroke-linecap="butt"/>
<rect x="892.10" y="587.20" width="23.90" height="69.80" fill="#808080"/>
<line x1="904.05" y1="580.40" x2="904.05" y2="593.70" stroke="#000" stroke-width="1.9" stroke-linecap="butt"/>
<line x1="902.15" y1="580.70" x2="905.95" y2="580.70" stroke="#000" stroke-width="1.4" stroke-linecap="butt"/>
<line x1="902.15" y1="593.40" x2="905.95" y2="593.40" stroke="#000" stroke-width="1.4" stroke-linecap="butt"/>
<rect x="926.70" y="562.20" width="23.40" height="94.80" fill="#3366ff"/>
<line x1="938.40" y1="552.60" x2="938.40" y2="571.30" stroke="#000" stroke-width="1.9" stroke-linecap="butt"/>
<line x1="936.50" y1="552.90" x2="940.30" y2="552.90" stroke="#000" stroke-width="1.4" stroke-linecap="butt"/>
<line x1="936.50" y1="571.00" x2="940.30" y2="571.00" stroke="#000" stroke-width="1.4" stroke-linecap="butt"/>
<line x1="612.30" y1="446.20" x2="612.30" y2="657.70" stroke="#111" stroke-width="1.4" stroke-linecap="butt"/>
<line x1="611.60" y1="657.00" x2="979.00" y2="657.00" stroke="#111" stroke-width="1.4" stroke-linecap="butt"/>
<text x="579.5" y="661.8" font-family="Liberation Serif" font-size="13.6" font-weight="bold" text-anchor="start" textLength="17.6" lengthAdjust="spacingAndGlyphs" fill="#000" >0.0</text>
<line x1="612.30" y1="621.97" x2="616.80" y2="621.97" stroke="#111" stroke-width="1.3" stroke-linecap="butt"/>
<text x="579.5" y="626.8" font-family="Liberation Serif" font-size="13.6" font-weight="bold" text-anchor="start" textLength="17.6" lengthAdjust="spacingAndGlyphs" fill="#000" >0.5</text>
<line x1="612.30" y1="586.94" x2="616.80" y2="586.94" stroke="#111" stroke-width="1.3" stroke-linecap="butt"/>
<text x="579.5" y="591.7" font-family="Liberation Serif" font-size="13.6" font-weight="bold" text-anchor="start" textLength="17.6" lengthAdjust="spacingAndGlyphs" fill="#000" >1.0</text>
<line x1="612.30" y1="551.91" x2="616.80" y2="551.91" stroke="#111" stroke-width="1.3" stroke-linecap="butt"/>
<text x="579.5" y="556.7" font-family="Liberation Serif" font-size="13.6" font-weight="bold" text-anchor="start" textLength="17.6" lengthAdjust="spacingAndGlyphs" fill="#000" >1.5</text>
<line x1="612.30" y1="516.88" x2="616.80" y2="516.88" stroke="#111" stroke-width="1.3" stroke-linecap="butt"/>
<text x="579.5" y="521.7" font-family="Liberation Serif" font-size="13.6" font-weight="bold" text-anchor="start" textLength="17.6" lengthAdjust="spacingAndGlyphs" fill="#000" >2.0</text>
<line x1="612.30" y1="481.85" x2="616.80" y2="481.85" stroke="#111" stroke-width="1.3" stroke-linecap="butt"/>
<text x="579.5" y="486.7" font-family="Liberation Serif" font-size="13.6" font-weight="bold" text-anchor="start" textLength="17.6" lengthAdjust="spacingAndGlyphs" fill="#000" >2.5</text>
<line x1="612.30" y1="446.82" x2="616.80" y2="446.82" stroke="#111" stroke-width="1.3" stroke-linecap="butt"/>
<text x="579.5" y="451.6" font-family="Liberation Serif" font-size="13.6" font-weight="bold" text-anchor="start" textLength="17.6" lengthAdjust="spacingAndGlyphs" fill="#000" >3.0</text>
<line x1="795.20" y1="657.00" x2="795.20" y2="653.00" stroke="#111" stroke-width="1.3" stroke-linecap="butt"/>
<line x1="978.40" y1="657.00" x2="978.40" y2="653.00" stroke="#111" stroke-width="1.3" stroke-linecap="butt"/>
<line x1="641.70" y1="663.20" x2="697.60" y2="663.20" stroke="#000" stroke-width="2" stroke-linecap="butt"/>
<line x1="709.80" y1="663.20" x2="765.70" y2="663.20" stroke="#000" stroke-width="2" stroke-linecap="butt"/>
<line x1="824.50" y1="663.20" x2="880.40" y2="663.20" stroke="#000" stroke-width="2" stroke-linecap="butt"/>
<line x1="893.40" y1="663.20" x2="949.30" y2="663.20" stroke="#000" stroke-width="2" stroke-linecap="butt"/>
<line x1="651.80" y1="467.70" x2="686.60" y2="467.70" stroke="#111" stroke-width="1.8" stroke-linecap="butt"/>
<line x1="686.20" y1="459.10" x2="755.00" y2="459.10" stroke="#111" stroke-width="1.8" stroke-linecap="butt"/>
<line x1="836.20" y1="512.40" x2="870.80" y2="512.40" stroke="#111" stroke-width="1.8" stroke-linecap="butt"/>
<line x1="870.40" y1="505.30" x2="938.10" y2="505.30" stroke="#111" stroke-width="1.8" stroke-linecap="butt"/>
<text x="668.8" y="468.3" font-family="Liberation Serif" font-size="12.5" text-anchor="middle" fill="#111" letter-spacing="0.8">**</text>
<text x="720.4" y="459.0" font-family="Liberation Serif" font-size="12.5" text-anchor="middle" fill="#111" >*</text>
<text x="853.3" y="513.0" font-family="Liberation Serif" font-size="12.5" text-anchor="middle" fill="#111" letter-spacing="0.8">**</text>
<text x="905.8" y="505.1" font-family="Liberation Serif" font-size="12.5" text-anchor="middle" fill="#111" >*</text>
<rect x="766.00" y="445.20" width="16.90" height="14.30" fill="#808080"/>
<rect x="766.00" y="466.80" width="16.90" height="14.30" fill="#3366ff"/>
<text x="787.3" y="455.3" font-family="Liberation Serif" font-size="14" font-weight="bold" text-anchor="start" textLength="94.4" lengthAdjust="spacingAndGlyphs" fill="#000" >pGL3-Promoter</text>
<text x="787.3" y="475.3" font-family="Liberation Serif" font-size="14" font-weight="bold" text-anchor="start" textLength="194.5" lengthAdjust="spacingAndGlyphs" fill="#000" >pGL3-Promoter-FALEC-Reverse</text>
<text x="549.2" y="551.5" font-family="Liberation Serif" font-size="17" font-weight="bold" text-anchor="middle" transform="rotate(-90 549.2 551.5)" textLength="176" lengthAdjust="spacingAndGlyphs" fill="#000" >Relative luciferase activity</text>
<text x="565.5" y="551.3" font-family="Liberation Serif" font-size="17" font-weight="bold" text-anchor="middle" transform="rotate(-90 565.5 551.3)" textLength="55.6" lengthAdjust="spacingAndGlyphs" fill="#000" >(FL/RL)</text>
<text x="676" y="672" font-family="Liberation Serif" font-size="13.5" font-weight="bold" text-anchor="end" transform="rotate(-30 676 672)" fill="#000" >Control siRNA</text>
<text x="744" y="674" font-family="Liberation Serif" font-size="13.5" font-weight="bold" text-anchor="end" transform="rotate(-30 744 674)" fill="#000" >siFALEC</text>
<text x="860" y="672" font-family="Liberation Serif" font-size="13.5" font-weight="bold" text-anchor="end" transform="rotate(-30 860 672)" fill="#000" >Control siRNA</text>
<text x="928.3" y="674" font-family="Liberation Serif" font-size="13.5" font-weight="bold" text-anchor="end" transform="rotate(-30 928.3 674)" fill="#000" >siFALEC</text>
<text x="663.8" y="731.6" font-family="Liberation Serif" font-size="16" font-weight="bold" text-anchor="start" textLength="58" lengthAdjust="spacingAndGlyphs" fill="#000" >HGC-27</text>
<text x="823.7" y="731.6" font-family="Liberation Serif" font-size="16" font-weight="bold" text-anchor="start" textLength="69.7" lengthAdjust="spacingAndGlyphs" fill="#000" >MGC-803</text>
<text x="722.5" y="731.6" font-family="Liberation Serif" font-size="16" font-weight="bold" text-anchor="start" fill="#f1f1f1" >27</text>
<text x="896.5" y="731.6" font-family="Liberation Serif" font-size="16" font-weight="bold" text-anchor="start" fill="#f3f3f3" >803</text>
</svg>
</body></html>
